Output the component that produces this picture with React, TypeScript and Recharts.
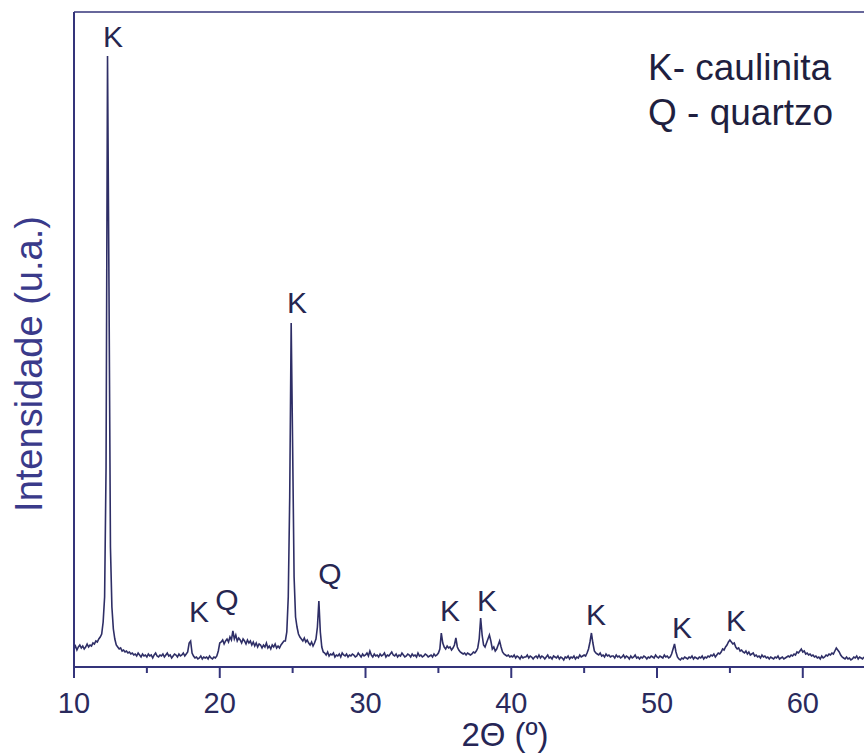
import React from 'react';
import { ComposedChart, Line, Scatter, XAxis, YAxis, ReferenceLine } from 'recharts';

// 2θ grid: start 10°, step 0.1°
const START = 10;
const STEP = 0.1;

// Intensity (arbitrary units), one row per degree (d.0 … d.9)
const intensity: number[] = [
  18, 21, 17, 20, 22, 19, 21, 18, 20, 23, // 10
  20, 22, 21, 24, 23, 26, 25, 28, 30, 33, // 11
  45, 70, 200, 611, 380, 120, 60, 38, 28, 22, // 12
  20, 18, 19, 16, 17, 15, 16, 14, 15, 13, // 13
  14, 12, 13, 11, 14, 12, 10, 13, 11, 12, // 14
  10, 13, 11, 12, 9, 12, 14, 11, 10, 12, // 15
  11, 13, 10, 12, 14, 11, 12, 9, 11, 13, // 16
  12, 10, 13, 11, 12, 14, 11, 13, 15, 24, // 17
  26, 14, 11, 9, 10, 8, 9, 11, 8, 10, // 18
  9, 10, 8, 11, 9, 8, 10, 9, 11, 16, // 19
  24, 25, 27, 23, 26, 28, 25, 30, 27, 36, // 20
  28, 32, 26, 29, 27, 24, 28, 26, 23, 27, // 21
  24, 26, 22, 25, 21, 24, 20, 23, 22, 19, // 22
  22, 20, 24, 19, 21, 18, 22, 20, 23, 19, // 23
  21, 19, 22, 24, 26, 26, 35, 70, 170, 344, // 24
  220, 90, 50, 40, 33, 30, 28, 26, 29, 25, // 25
  27, 24, 22, 25, 21, 24, 28, 40, 66, 35, // 26
  20, 15, 14, 12, 15, 11, 13, 12, 14, 10, // 27
  12, 11, 13, 10, 14, 12, 11, 13, 10, 12, // 28
  11, 13, 12, 10, 11, 14, 12, 10, 13, 11, // 29
  12, 14, 11, 16, 12, 10, 13, 11, 12, 10, // 30
  13, 11, 12, 14, 10, 12, 11, 13, 15, 12, // 31
  11, 13, 10, 12, 11, 14, 12, 10, 11, 13, // 32
  12, 10, 13, 11, 12, 10, 14, 11, 12, 10, // 33
  11, 13, 12, 10, 11, 12, 10, 13, 11, 12, // 34
  14, 18, 34, 24, 20, 18, 21, 19, 20, 17, // 35
  19, 22, 29, 20, 17, 15, 14, 13, 14, 12, // 36
  14, 13, 12, 13, 15, 14, 16, 19, 28, 49, // 37
  32, 22, 20, 24, 28, 32, 26, 18, 20, 16, // 38
  18, 22, 26, 20, 15, 13, 12, 11, 12, 10, // 39
  11, 10, 12, 9, 11, 10, 8, 11, 9, 10, // 40
  10, 12, 9, 11, 10, 8, 10, 11, 9, 12, // 41
  9, 11, 10, 8, 10, 12, 9, 10, 8, 11, // 42
  10, 9, 11, 8, 10, 9, 7, 10, 9, 11, // 43
  8, 10, 9, 11, 8, 10, 9, 12, 10, 11, // 44
  12, 11, 14, 18, 25, 34, 24, 16, 14, 13, // 45
  12, 14, 11, 12, 10, 13, 11, 12, 10, 11, // 46
  11, 9, 12, 10, 11, 9, 10, 12, 9, 11, // 47
  10, 8, 11, 9, 10, 12, 9, 10, 8, 10, // 48
  9, 11, 10, 8, 10, 9, 11, 10, 9, 12, // 49
  10, 9, 11, 10, 9, 12, 10, 11, 9, 10, // 50
  13, 18, 23, 15, 10, 8, 7, 9, 8, 10, // 51
  9, 8, 10, 9, 11, 8, 10, 9, 8, 10, // 52
  9, 11, 8, 10, 9, 11, 10, 12, 11, 13, // 53
  10, 12, 14, 13, 15, 18, 17, 20, 22, 25, // 54
  27, 25, 23, 24, 20, 18, 19, 16, 17, 15, // 55
  14, 16, 13, 15, 12, 13, 14, 11, 12, 10, // 56
  11, 9, 12, 10, 11, 9, 10, 8, 10, 9, // 57
  8, 10, 9, 11, 8, 9, 10, 8, 9, 10, // 58
  11, 10, 12, 11, 13, 12, 15, 14, 16, 18, // 59
  15, 16, 13, 14, 12, 13, 11, 12, 10, 11, // 60
  9, 10, 8, 11, 9, 10, 12, 11, 13, 12, // 61
  14, 13, 16, 19, 17, 15, 12, 10, 9, 8, // 62
  10, 8, 9, 7, 8, 10, 9, 11, 8, 10, // 63
  9, 8, 10, // 64
];

// Peak labels (2θ position, label height, text)
const peakPos: number[] = [12.68, 25.3, 18.58, 20.5, 27.56, 35.8, 38.33, 45.81, 51.71, 55.42];
const peakHeight: number[] = [620, 354, 45, 57, 83, 46, 56, 42, 29, 36];
const peakText: string[] = ['K', 'K', 'K', 'Q', 'Q', 'K', 'K', 'K', 'K', 'K'];

const xTicks: number[] = [10, 15, 20, 25, 30, 35, 40, 45, 50, 55, 60];
const X_DOMAIN: [number, number] = [10, 64.2];
const Y_DOMAIN: [number, number] = [0, 655];

const legendLines: string[] = ['K- caulinita', 'Q - quartzo'];
const xTitle = '2Θ (º)';
const yTitle = 'Intensidade (u.a.)';

const data = intensity.map((v, i) => ({ t: +(START + i * STEP).toFixed(1), v }));
const labels = peakPos.map((t, i) => ({ t, v: peakHeight[i], label: peakText[i] }));

const FONT = '"Liberation Sans", Arial, sans-serif';
const AXIS = '#34347a';
const LINE = '#2e2e66';

const Tick = (props: any) => {
  const { x, y, payload } = props;
  const major = payload.value % 10 === 0;
  return (
    <g>
      <line x1={x} x2={x} y1={y} y2={y + (major ? 11 : 6)} stroke={AXIS} strokeWidth={2} />
      {major && (
        <text x={x} y={y + 46} textAnchor="middle" fontSize={29} fontFamily={FONT} fill="#2a2a5c">
          {payload.value}
        </text>
      )}
    </g>
  );
};

const LabelShape = (props: any) => {
  const { cx, cy, payload } = props;
  return (
    <text x={cx} y={cy} textAnchor="middle" fontSize={30} fontFamily={FONT} fill="#262650">
      {payload.label}
    </text>
  );
};

export default function App() {
  return (
    <div style={{ position: 'absolute', left: 0, top: 0, width: 864, height: 755, background: '#fff' }}>
      <ComposedChart
        width={864}
        height={755}
        margin={{ top: 12, right: 0, bottom: 0, left: 0 }}
      >
        <XAxis
          type="number"
          dataKey="t"
          domain={X_DOMAIN}
          allowDataOverflow
          ticks={xTicks}
          interval={0}
          height={88}
          tickSize={0}
          tickMargin={0}
          tickLine={false}
          tick={<Tick />}
          axisLine={{ stroke: AXIS, strokeWidth: 2 }}
        />
        <YAxis
          type="number"
          domain={Y_DOMAIN}
          allowDataOverflow
          width={74}
          tick={false}
          tickLine={false}
          axisLine={{ stroke: AXIS, strokeWidth: 2 }}
        />
        <ReferenceLine y={655} stroke={AXIS} strokeWidth={1.5} />
        <Line
          data={data}
          dataKey="v"
          type="linear"
          stroke={LINE}
          strokeWidth={1.6}
          dot={false}
          isAnimationActive={false}
        />
        <Scatter data={labels} dataKey="v" shape={<LabelShape />} isAnimationActive={false} />
      </ComposedChart>
      <svg width={864} height={755} style={{ position: 'absolute', left: 0, top: 0, pointerEvents: 'none' }}>
        <text x={648} y={80} fontSize={37} fontFamily={FONT} fill="#1f1f40">{legendLines[0]}</text>
        <text x={648} y={125} fontSize={37} fontFamily={FONT} fill="#1f1f40">{legendLines[1]}</text>
        <text x={505} y={746} textAnchor="middle" fontSize={33} fontFamily={FONT} fill="#262656">{xTitle}</text>
        <text
          transform="translate(42,364) rotate(-90)"
          textAnchor="middle"
          fontSize={38}
          fontFamily={FONT}
          fill="#3a3a8a"
        >
          {yTitle}
        </text>
      </svg>
    </div>
  );
}
